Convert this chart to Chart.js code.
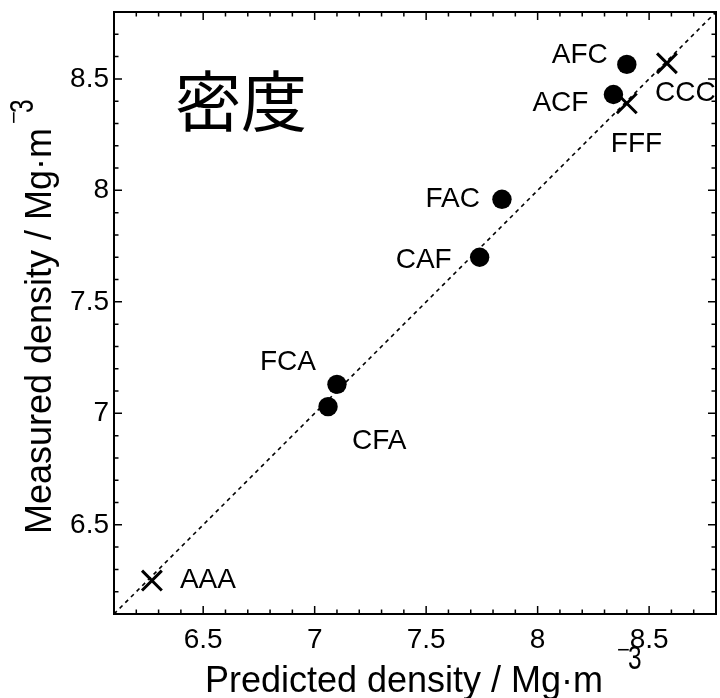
<!DOCTYPE html>
<html><head><meta charset="utf-8">
<script src="https://cdn.jsdelivr.net/npm/chart.js@4.4.0/dist/chart.umd.min.js"></script>
<style>html,body{margin:0;padding:0;background:#fff;overflow:hidden}</style>
</head><body>
<canvas id="c" width="720" height="698" style="display:block;width:720px;height:698px"></canvas>
<script>
// ---- data ----
const circleNames = ['AFC', 'ACF', 'FAC', 'CAF', 'FCA', 'CFA'];
const circlePredicted = [8.40, 8.34, 7.84, 7.74, 7.10, 7.06];
const circleMeasured  = [8.565, 8.43, 7.96, 7.70, 7.13, 7.03];
const crossNames = ['CCC', 'FFF', 'AAA'];
const crossPredicted = [8.58, 8.40, 6.27];
const crossMeasured  = [8.57, 8.39, 6.25];
const axisMin = 6.1, axisMax = 8.8;
const majorTicks = [6.5, 7, 7.5, 8, 8.5];
const minorStep = 0.1;
const chartTitle = '密度';
const xTitle = 'Predicted density / Mg·m';
const yTitle = 'Measured density / Mg·m';
const expSign = '\u2212', expDigit = '3';

// ---- label placement (style) ----
const labelStyle = {
  AFC: {dx: -19, dy: -9, align: 'right'},
  ACF: {dx: -25, dy: 9, align: 'right'},
  FAC: {dx: -22, dy: 0, align: 'right'},
  CAF: {dx: -28, dy: 3, align: 'right'},
  FCA: {dx: -21, dy: -22, align: 'right'},
  CFA: {dx: 24, dy: 35, align: 'left'},
  CCC: {dx: -12, dy: 30, align: 'left'},
  FFF: {dx: -16, dy: 41, align: 'left'},
  AAA: {dx: 28, dy: 0, align: 'left'}
};

const FONT = '"Liberation Sans", Arial, sans-serif';

// draws "−3" superscript starting at local x, with baseline at local y
function drawExp(ctx, x, y) {
  ctx.save();
  ctx.font = '22px ' + FONT;
  ctx.textBaseline = 'alphabetic';
  ctx.textAlign = 'left';
  const mw = ctx.measureText(expSign).width;
  ctx.fillText(expSign, x - 2, y - 12);
  ctx.translate(x + mw - 4, y);
  ctx.scale(0.74, 1);
  ctx.font = '33px ' + FONT;
  ctx.fillText(expDigit, 0, 0);
  ctx.restore();
}

const decorPlugin = {
  id: 'decor',
  afterDatasetsDraw(chart) {
    const ctx = chart.ctx;
    ctx.save();
    ctx.fillStyle = '#000';
    ctx.font = '28px ' + FONT;
    ctx.textBaseline = 'middle';
    const groups = [[0, circleNames], [1, crossNames]];
    groups.forEach(([di, names]) => {
      const meta = chart.getDatasetMeta(di);
      meta.data.forEach((el, j) => {
        const st = labelStyle[names[j]];
        ctx.textAlign = st.align;
        ctx.fillText(names[j], el.x + st.dx, el.y + st.dy);
      });
    });
    ctx.restore();
  },
  afterDraw(chart) {
    const ctx = chart.ctx;
    const a = chart.chartArea;
    const xs = chart.scales.x, ys = chart.scales.y;
    ctx.save();
    ctx.strokeStyle = '#000';
    // ticks (inward, all four sides)
    ctx.lineWidth = 1.5;
    const nMinor = Math.round((axisMax - axisMin) / minorStep);
    for (let i = 1; i < nMinor; i++) {
      const v = axisMin + i * minorStep;
      const isMajor = majorTicks.some(t => Math.abs(t - v) < 1e-6);
      const len = isMajor ? 8 : 4.5;
      const px = xs.getPixelForValue(v);
      const py = ys.getPixelForValue(v);
      ctx.beginPath();
      ctx.moveTo(px, a.bottom); ctx.lineTo(px, a.bottom - len);
      ctx.moveTo(px, a.top); ctx.lineTo(px, a.top + len);
      ctx.moveTo(a.left, py); ctx.lineTo(a.left + len, py);
      ctx.moveTo(a.right, py); ctx.lineTo(a.right - len, py);
      ctx.stroke();
    }
    // frame
    ctx.lineWidth = 2;
    ctx.strokeRect(a.left, a.top, a.right - a.left, a.bottom - a.top);

    ctx.fillStyle = '#000';
    // big Japanese title
    ctx.font = '66px "Noto Sans CJK JP", sans-serif';
    ctx.textAlign = 'center';
    ctx.textBaseline = 'middle';
    ctx.fillText(chartTitle, a.left + 127, a.top + 89);

    // x axis title
    ctx.font = '36px ' + FONT;
    ctx.textAlign = 'left';
    ctx.textBaseline = 'alphabetic';
    const expW = 22;
    let w1 = ctx.measureText(xTitle).width;
    let gap = 16;
    let tot = w1 + gap + expW;
    let sx = (a.left + a.right) / 2 + 8 - tot / 2;
    const by = a.bottom + 78;
    ctx.fillText(xTitle, sx, by);
    drawExp(ctx, sx + w1 + gap, by - 23);

    // y axis title
    ctx.font = '36px ' + FONT;
    w1 = ctx.measureText(yTitle).width;
    gap = 6;
    tot = w1 + gap + expW;
    ctx.save();
    ctx.translate(a.left - 63, (a.top + a.bottom) / 2 + 4);
    ctx.rotate(-Math.PI / 2);
    const st = -tot / 2;
    ctx.fillText(yTitle, st, 0);
    drawExp(ctx, st + w1 + gap, -18);
    ctx.restore();

    ctx.restore();
  }
};

const setTicks = (scale) => { scale.ticks = majorTicks.map(v => ({value: v})); };

new Chart(document.getElementById('c'), {
  type: 'scatter',
  data: {
    datasets: [
      {
        label: 'circles',
        data: circlePredicted.map((x, i) => ({x: x, y: circleMeasured[i]})),
        pointStyle: 'circle', pointRadius: 9.7, pointHoverRadius: 9.7,
        backgroundColor: '#000', borderColor: '#000', borderWidth: 0,
        order: 1, clip: false
      },
      {
        label: 'crosses',
        data: crossPredicted.map((x, i) => ({x: x, y: crossMeasured[i]})),
        pointStyle: 'crossRot', pointRadius: 14, pointHoverRadius: 14,
        backgroundColor: '#000', borderColor: '#000', borderWidth: 3,
        order: 1, clip: false
      },
      {
        type: 'line',
        label: 'y=x',
        data: [{x: axisMin, y: axisMin}, {x: axisMax, y: axisMax}],
        borderColor: '#000', borderWidth: 1.6, borderDash: [4, 4],
        pointRadius: 0, fill: false, order: 3
      }
    ]
  },
  options: {
    responsive: false,
    animation: false,
    devicePixelRatio: 1,
    layout: {autoPadding: false, padding: {left: 0, right: 4, top: 12, bottom: 0}},
    plugins: {legend: {display: false}, tooltip: {enabled: false}},
    scales: {
      x: {
        type: 'linear', min: axisMin, max: axisMax,
        afterBuildTicks: setTicks,
        afterFit: (s) => { s.height = 84; s.paddingLeft = 0; s.paddingRight = 0; },
        grid: {display: false, drawTicks: false},
        border: {display: false},
        ticks: {color: '#000', font: {family: FONT, size: 28}, padding: 9, maxRotation: 0,
                callback: (v) => String(v)}
      },
      y: {
        type: 'linear', min: axisMin, max: axisMax,
        afterBuildTicks: setTicks,
        afterFit: (s) => { s.width = 114; s.paddingTop = 0; s.paddingBottom = 0; },
        grid: {display: false, drawTicks: false},
        border: {display: false},
        ticks: {color: '#000', font: {family: FONT, size: 28}, padding: 5,
                callback: (v) => String(v)}
      }
    }
  },
  plugins: [decorPlugin]
});
</script>
</body></html>
